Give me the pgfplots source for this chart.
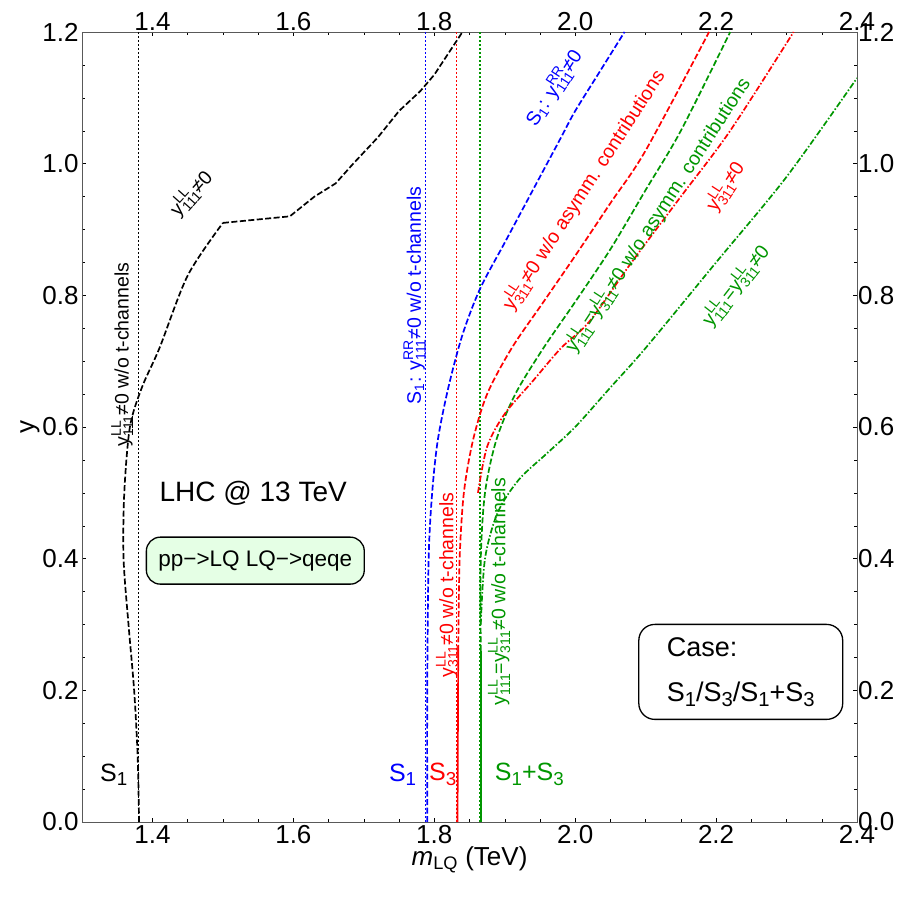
\documentclass[border=0pt]{standalone}
\usepackage{pgfplots}
\pgfplotsset{compat=1.18}
\usepackage{fontspec}
\setmainfont{Liberation Sans}
\definecolor{dg}{RGB}{0,150,0}
\newcommand{\ysub}[2]{y\makebox[0pt][l]{\raisebox{0.75ex}{\fontsize{14}{15}\selectfont #1}}\raisebox{-0.45ex}{\fontsize{14}{15}\selectfont #2}}
\newcommand{\sub}[1]{\raisebox{-0.35ex}{\fontsize{0.75em}{1em}\selectfont #1}}
\tikzset{lab/.style={font=\fontsize{19.5}{21}\selectfont,inner sep=1pt}}
\pgfplotsset{
 dsh/.style={line width=1.7pt,dash pattern=on 6pt off 2.5pt},
 dsd/.style={line width=1.7pt,dash pattern=on 6pt off 2pt on 1.5pt off 2pt},
 dtt/.style={line width=1.2pt,dash pattern=on 2pt off 2pt},
}
\begin{document}
\begin{tikzpicture}[x=1pt,y=1pt]
\useasboundingbox (-82,-82) rectangle (835,822);
\begin{axis}[at={(0,0)},anchor=south west,scale only axis, width=775pt, height=790pt,
  xmin=1.3,xmax=2.4,ymin=0,ymax=1.2,
  xtick={1.4,1.6,...,2.4}, ytick={0,0.2,...,1.2},
  minor x tick num=3, minor y tick num=3,
  tick align=inside, axis line style={gray!70!black},
  xticklabel style={/pgf/number format/fixed,/pgf/number format/fixed zerofill,/pgf/number format/precision=1},
  yticklabel style={/pgf/number format/fixed,/pgf/number format/fixed zerofill,/pgf/number format/precision=1},
  /pgf/number format/assume math mode=true,
  tick label style={font=\fontsize{26}{28}\selectfont},
  label style={font=\fontsize{26}{28}\selectfont},
  xlabel={\textit{m}\textsubscript{LQ} (TeV)}, ylabel={y},
  xlabel style={yshift=4pt}, ylabel style={yshift=-4pt},
  xtick pos=both, ytick pos=both, xticklabel pos=bottom, yticklabel pos=left,
  every tick/.style={black},
  clip=true]
\addplot[black,dtt] coordinates {(1.38,0)(1.38,1.2)};
\addplot[blue,dtt] coordinates {(1.787,0)(1.787,1.2)};
\addplot[red,dtt] coordinates {(1.832,0)(1.832,1.2)};
\addplot[dg,dtt] coordinates {(1.865,0)(1.865,1.2)};
\addplot[black,dsh,smooth] coordinates {(1.381,0)(1.379,0.1)(1.374,0.2)(1.366,0.3)(1.359,0.4)(1.360,0.5)(1.368,0.6)(1.385,0.66)(1.41,0.72)(1.45,0.83)(1.5,0.91)};
\addplot[black,dsh] coordinates {(1.5,0.91)(1.595,0.92)(1.63,0.95)(1.66,0.97)(1.685,1.0)(1.72,1.04)(1.75,1.08)(1.78,1.11)(1.8,1.135)(1.84,1.2)};
\addplot[blue,dsh,smooth] coordinates {(1.79,0)(1.79,0.2)(1.792,0.4)(1.797,0.5)(1.805,0.58)(1.82,0.66)(1.84,0.74)(1.865,0.81)(1.9,0.88)(1.94,0.96)(1.98,1.04)(2.0,1.08)(2.035,1.14)(2.07,1.2)};
\addplot[red,line width=1.7pt] coordinates {(1.833,0)(1.834,0.26)};
\addplot[red,dsh,smooth] coordinates {(1.834,0.26)(1.836,0.4)(1.842,0.5)(1.855,0.58)(1.875,0.65)(1.91,0.72)(1.955,0.79)(2.0,0.86)(2.05,0.94)(2.1,1.02)(2.19,1.2)};
\addplot[dg,line width=1.7pt] coordinates {(1.866,0)(1.866,0.26)};
\addplot[dg,dsh,smooth] coordinates {(1.866,0.26)(1.866,0.4)(1.872,0.5)(1.888,0.58)(1.915,0.65)(1.955,0.72)(2.0,0.79)(2.05,0.87)(2.1,0.96)(2.15,1.05)(2.22,1.2)};
\addplot[red,dsd,smooth] coordinates {(1.862,0.5)(1.875,0.57)(1.9,0.62)(1.94,0.67)(1.98,0.72)(2.02,0.76)(2.08,0.85)(2.15,0.95)(2.22,1.05)(2.31,1.2)};
\addplot[dg,dsd,smooth] coordinates {(1.866,0.3)(1.872,0.4)(1.89,0.47)(1.92,0.52)(1.96,0.56)(2.0,0.6)(2.05,0.66)(2.1,0.72)(2.2,0.85)(2.3,0.98)(2.4,1.13)};
\node[lab,rotate=90,black] at (axis cs:1.357,0.71) {\ysub{LL}{111}≠0 w/o t-channels};
\node[lab,rotate=48,black] at (axis cs:1.455,0.955) {\ysub{LL}{111}≠0};
\node[lab,rotate=90,blue] at (axis cs:1.772,0.80) {S\textsubscript{1}: \ysub{RR}{111}≠0 w/o t-channels};
\node[lab,rotate=57,blue] at (axis cs:1.97,1.115) {S\textsubscript{1}: \ysub{RR}{111}≠0};
\node[lab,rotate=57,red] at (axis cs:2.012,0.96) {\ysub{LL}{311}≠0 w/o asymm. contributions};
\node[lab,rotate=57,dg] at (axis cs:2.117,0.922) {\ysub{LL}{111}=\ysub{LL}{311}≠0 w/o asymm. contributions};
\node[lab,rotate=57,red] at (axis cs:2.213,0.965) {\ysub{LL}{311}≠0};
\node[lab,rotate=52,dg] at (axis cs:2.228,0.815) {\ysub{LL}{111}=\ysub{LL}{311}≠0};
\node[lab,rotate=90,red] at (axis cs:1.818,0.36) {\ysub{LL}{311}≠0 w/o t-channels};
\node[lab,rotate=90,dg] at (axis cs:1.892,0.35) {\ysub{LL}{111}=\ysub{LL}{311}≠0 w/o t-channels};
\node[font=\fontsize{25}{27}\selectfont] at (axis cs:1.345,0.072) {S\sub{1}};
\node[font=\fontsize{25}{27}\selectfont,blue] at (axis cs:1.755,0.072) {S\sub{1}};
\node[font=\fontsize{25}{27}\selectfont,red] at (axis cs:1.812,0.072) {S\sub{3}};
\node[font=\fontsize{25}{27}\selectfont,dg] at (axis cs:1.935,0.072) {S\sub{1}+S\sub{3}};
\node[font=\fontsize{28}{30}\selectfont] at (axis cs:1.543,0.5) {LHC @ 13 TeV};
\node[draw,rounded corners=14pt,fill=green!10,line width=1.3pt,inner xsep=12pt,minimum height=47pt,font=\fontsize{22.5}{24}\selectfont] at (axis cs:1.546,0.397) {pp−>LQ LQ−>qeqe};
\node[draw,rounded corners=16pt,line width=1.3pt,align=left,inner xsep=28pt,minimum height=95pt,font=\fontsize{27}{45}\selectfont] at (axis cs:2.235,0.228) {Case:\\S\sub{1}/S\sub{3}/S\sub{1}+S\sub{3}};
\end{axis}
\begin{axis}[at={(0,0)},anchor=south west,scale only axis, width=775pt, height=790pt,
  xmin=1.3,xmax=2.4,ymin=0,ymax=1.2, axis line style={draw=none},
  xtick={1.4,1.6,...,2.4}, ytick={0,0.2,...,1.2}, major tick length=0pt,
  xticklabel pos=top, yticklabel pos=right,
  xticklabel style={/pgf/number format/fixed,/pgf/number format/fixed zerofill,/pgf/number format/precision=1},
  yticklabel style={/pgf/number format/fixed,/pgf/number format/fixed zerofill,/pgf/number format/precision=1},
  /pgf/number format/assume math mode=true,
  tick label style={font=\fontsize{26}{28}\selectfont,inner sep=1pt}]
\addplot[draw=none] coordinates {(1.3,0)};
\end{axis}
\end{tikzpicture}
\end{document}
